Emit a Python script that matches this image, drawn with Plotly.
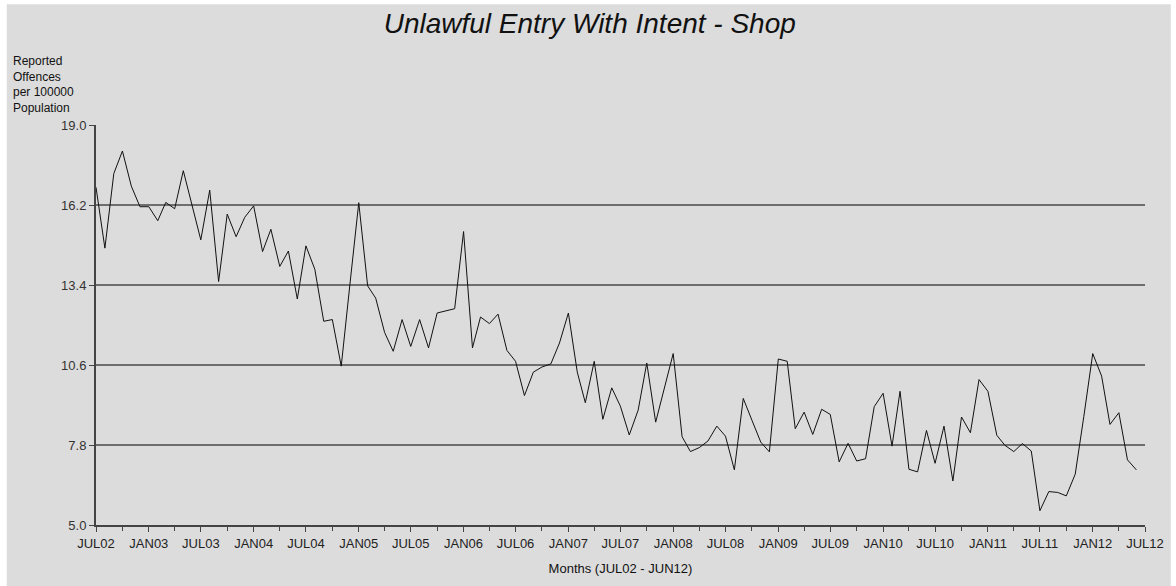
import pandas as pd
import plotly.graph_objects as go

# monthly rates, JUL02 .. JUN12
months = pd.date_range("2002-07-01", "2012-06-01", freq="MS")
offences = [
    16.82, 14.69, 17.30, 18.09, 16.86, 16.14, 16.14, 15.65, 16.29, 16.07,
    17.40, 16.14, 14.98, 16.72, 13.52, 15.88, 15.09, 15.77, 16.17, 14.57,
    15.35, 14.05, 14.59, 12.91, 14.77, 13.95, 12.13, 12.19, 10.56, 13.40,
    16.28, 13.37, 12.94, 11.74, 11.08, 12.19, 11.25, 12.19, 11.20, 12.42,
    12.50, 12.57, 15.27, 11.20, 12.28, 12.05, 12.38, 11.11, 10.73, 9.53,
    10.35, 10.53, 10.64, 11.37, 12.42, 10.35, 9.28, 10.73, 8.70, 9.80,
    9.16, 8.15, 9.02, 10.67, 8.60, 9.74, 11.00, 8.09, 7.57, 7.71,
    7.94, 8.46, 8.11, 6.93, 9.43, 8.67, 7.90, 7.56, 10.81, 10.73,
    8.37, 8.95, 8.17, 9.05, 8.87, 7.21, 7.86, 7.24, 7.32, 9.14,
    9.61, 7.76, 9.68, 6.95, 6.86, 8.31, 7.16, 8.46, 6.54, 8.78,
    8.23, 10.09, 9.68, 8.14, 7.79, 7.57, 7.85, 7.59, 5.50, 6.17,
    6.14, 6.02, 6.78, 8.80, 11.00, 10.21, 8.52, 8.93, 7.28, 6.93,
]

tick_dates = pd.date_range("2002-07-01", "2012-07-01", freq="6MS")
tick_labels = ["JUL02", "JAN03", "JUL03", "JAN04", "JUL04", "JAN05", "JUL05",
               "JAN06", "JUL06", "JAN07", "JUL07", "JAN08", "JUL08", "JAN09",
               "JUL09", "JAN10", "JUL10", "JAN11", "JUL11", "JAN12", "JUL12"]
y_ticks = [5.0, 7.8, 10.6, 13.4, 16.2, 19.0]

fig = go.Figure()
fig.add_trace(go.Scatter(
    x=months,
    y=offences,
    mode="lines",
    line=dict(color="#111111", width=1),
    hoverinfo="x+y",
    showlegend=False
))

# grey panel inside a thin white border (top/left)
l, r, t, b = 96, 22, 125, 60
pw, ph = 1176 - l - r, 586 - t - b
fig.add_shape(type="rect", xref="paper", yref="paper", layer="below",
              x0=(6 - l) / pw, x1=(1180 - l) / pw,
              y0=-(b + 4) / ph, y1=(586 - b - 4) / ph,
              fillcolor="#dcdcdc", line=dict(width=0))

font = "Liberation Sans, Arial, sans-serif"

fig.update_layout(
    width=1176, height=586,
    margin=dict(l=l, r=r, t=t, b=b),
    paper_bgcolor="white",
    plot_bgcolor="rgba(0,0,0,0)",
    font=dict(family=font, size=13, color="#222222"),
    title=dict(text="<i>Unlawful Entry With Intent - Shop</i>",
               x=(594 - l) / pw, xanchor="center", xref="paper",
               y=1 - 23 / 586, yanchor="middle",
               font=dict(family=font, size=28, color="#111111")),
    xaxis=dict(
        range=[months[0], pd.Timestamp("2012-07-01")],
        tickvals=tick_dates, ticktext=tick_labels,
        ticks="outside", ticklen=5, tickwidth=1, tickcolor="#444444",
        minor=dict(dtick="M3", ticks="outside", ticklen=4, tickcolor="#444444",
                   showgrid=False),
        showgrid=False, zeroline=False,
        showline=True, linecolor="#444444", linewidth=2,
        tickfont=dict(size=13, color="#222222"),
        title=dict(text="Months (JUL02 - JUN12)", standoff=14,
                   font=dict(size=13, color="#111111")),
    ),
    yaxis=dict(
        range=[5.0, 19.0],
        tickvals=y_ticks, tickformat=".1f",
        ticks="outside", ticklen=5, tickcolor="#444444",
        showgrid=True, gridcolor="#6e6e6e", gridwidth=1.5,
        zeroline=False,
        showline=True, linecolor="#444444", linewidth=2,
        tickfont=dict(size=13, color="#333333"),
    ),
)

fig.add_annotation(
    text="Reported<br>Offences<br>per 100000<br>Population",
    xref="paper", yref="paper",
    x=(10 - l) / pw, y=1 + (t - 52) / ph,
    xanchor="left", yanchor="top", align="left", showarrow=False,
    font=dict(family=font, size=12, color="#111111"),
)

fig.write_html("out.html", config={"displayModeBar": False},
               post_script="document.body.style.margin='0';")
